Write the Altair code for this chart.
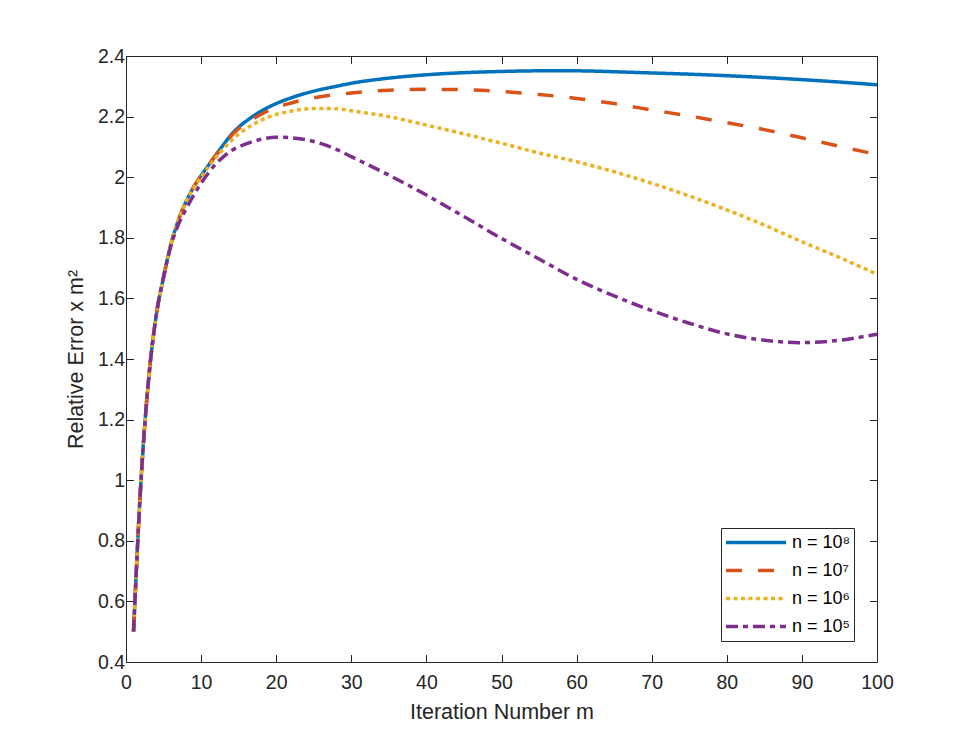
import altair as alt
import pandas as pd

m_vals = [1, 2, 3, 4, 5, 6, 7, 8, 9, 10, 11, 12, 13, 14, 15, 16, 18, 20, 22, 25, 28, 30,
          35, 40, 45, 50, 55, 60, 65, 70, 75, 80, 85, 90, 95, 100]
n_1e8 = [0.5, 1.0, 1.33, 1.54, 1.67, 1.78, 1.86, 1.92, 1.967, 2.005, 2.04, 2.075, 2.108, 2.14,
         2.165, 2.185, 2.218, 2.243, 2.262, 2.284, 2.3, 2.31, 2.327, 2.338, 2.345, 2.349, 2.351,
         2.351, 2.348, 2.344, 2.34, 2.335, 2.329, 2.322, 2.314, 2.305]
n_1e7 = [0.5, 1.0, 1.33, 1.54, 1.67, 1.78, 1.86, 1.92, 1.967, 2.005, 2.04, 2.073, 2.103, 2.136,
         2.16, 2.178, 2.208, 2.23, 2.245, 2.262, 2.273, 2.278, 2.287, 2.29, 2.289, 2.283, 2.273,
         2.26, 2.243, 2.222, 2.202, 2.18, 2.157, 2.13, 2.102, 2.075]
n_1e6 = [0.5, 1.0, 1.33, 1.54, 1.67, 1.78, 1.86, 1.92, 1.965, 2.0, 2.035, 2.066, 2.095, 2.12,
         2.142, 2.16, 2.188, 2.207, 2.218, 2.227, 2.226, 2.219, 2.2, 2.172, 2.143, 2.112, 2.08,
         2.051, 2.018, 1.98, 1.938, 1.892, 1.842, 1.787, 1.735, 1.68]
n_1e5 = [0.5, 1.0, 1.33, 1.54, 1.67, 1.775, 1.845, 1.895, 1.94, 1.98, 2.015, 2.045, 2.068, 2.087,
         2.1, 2.11, 2.125, 2.132, 2.13, 2.118, 2.092, 2.068, 2.007, 1.941, 1.87, 1.798, 1.73,
         1.663, 1.608, 1.56, 1.518, 1.483, 1.462, 1.454, 1.462, 1.482]

series_labels = ["n = 10⁸", "n = 10⁷", "n = 10⁶", "n = 10⁵"]
series_values = [n_1e8, n_1e7, n_1e6, n_1e5]
colors = ["#0072BD", "#D95319", "#EDB120", "#7E2F8E"]
dashes = [[1, 0], [16, 16], [4, 3.5], [12, 5, 5, 5]]

x_ticks = [0, 10, 20, 30, 40, 50, 60, 70, 80, 90, 100]
y_ticks = [0.4, 0.6, 0.8, 1, 1.2, 1.4, 1.6, 1.8, 2, 2.2, 2.4]

rows = []
for lab, vals in zip(series_labels, series_values):
    for m, v in zip(m_vals, vals):
        rows.append({"m": m, "value": v, "series": lab})
df = pd.DataFrame(rows)

W, H = 751, 606
FONT = "Liberation Sans"
INK = "#262626"
tick_in = alt.ExprRef(expr="-7.5")

xscale = alt.Scale(domain=[0, 100], nice=False, zero=False)
yscale = alt.Scale(domain=[0.4, 2.4], nice=False, zero=False)

legend_opts = dict(
    title=None, orient="none", legendX=595, legendY=472,
    symbolType="stroke", symbolSize=3600, symbolStrokeWidth=3.5,
    clipHeight=23, rowPadding=5, padding=3, labelOffset=4,
    labelFontSize=18, labelColor="#000000", labelFont=FONT,
    strokeColor=INK, fillColor="white",
)

lines = alt.Chart(df).mark_line(strokeWidth=3.5, interpolate="monotone").encode(
    x=alt.X("m:Q", scale=xscale, axis=alt.Axis(
        orient="bottom", values=x_ticks, format="d", tickSize=tick_in, labelPadding=19,
        labelFlush=False,
        title="Iteration Number m", titleX=W / 2, titleY=56, titleBaseline="alphabetic",
        titleFontSize=21.5, titleFontWeight="normal")),
    y=alt.Y("value:Q", scale=yscale, axis=alt.Axis(
        orient="left", values=y_ticks, format="~g", tickSize=tick_in, labelPadding=9,
        labelFlush=False,
        title="Relative Error x m²", titleX=-44, titleY=H / 2, titleAngle=270,
        titleBaseline="alphabetic", titleFontSize=21.5, titleFontWeight="normal")),
    color=alt.Color("series:N", scale=alt.Scale(domain=series_labels, range=colors),
                    sort=series_labels, legend=alt.Legend(**legend_opts)),
    strokeDash=alt.StrokeDash("series:N", scale=alt.Scale(domain=series_labels, range=dashes),
                              sort=series_labels, legend=alt.Legend(**legend_opts)),
)

frame = alt.Chart(df).mark_point(opacity=0).encode(
    x=alt.X("m:Q", scale=xscale, axis=alt.Axis(
        orient="top", values=x_ticks, labels=False, title=None, tickSize=tick_in)),
    y=alt.Y("value:Q", scale=yscale, axis=alt.Axis(
        orient="right", values=y_ticks, labels=False, title=None, tickSize=tick_in)),
)

chart = alt.layer(lines, frame).resolve_axis(x="independent", y="independent").properties(
    width=W, height=H,
    background="white",
    autosize=alt.AutoSizeParams(type="none"),
    padding={"left": 118, "top": 48, "right": 70, "bottom": 70},
).configure_view(stroke=None).configure_axis(
    grid=False, domainColor=INK, domainWidth=1, tickColor=INK, tickWidth=1,
    labelColor=INK, titleColor=INK, labelFont=FONT, titleFont=FONT, labelFontSize=19.5,
)

chart.save("out.html", embed_options={"renderer": "svg", "actions": False})
